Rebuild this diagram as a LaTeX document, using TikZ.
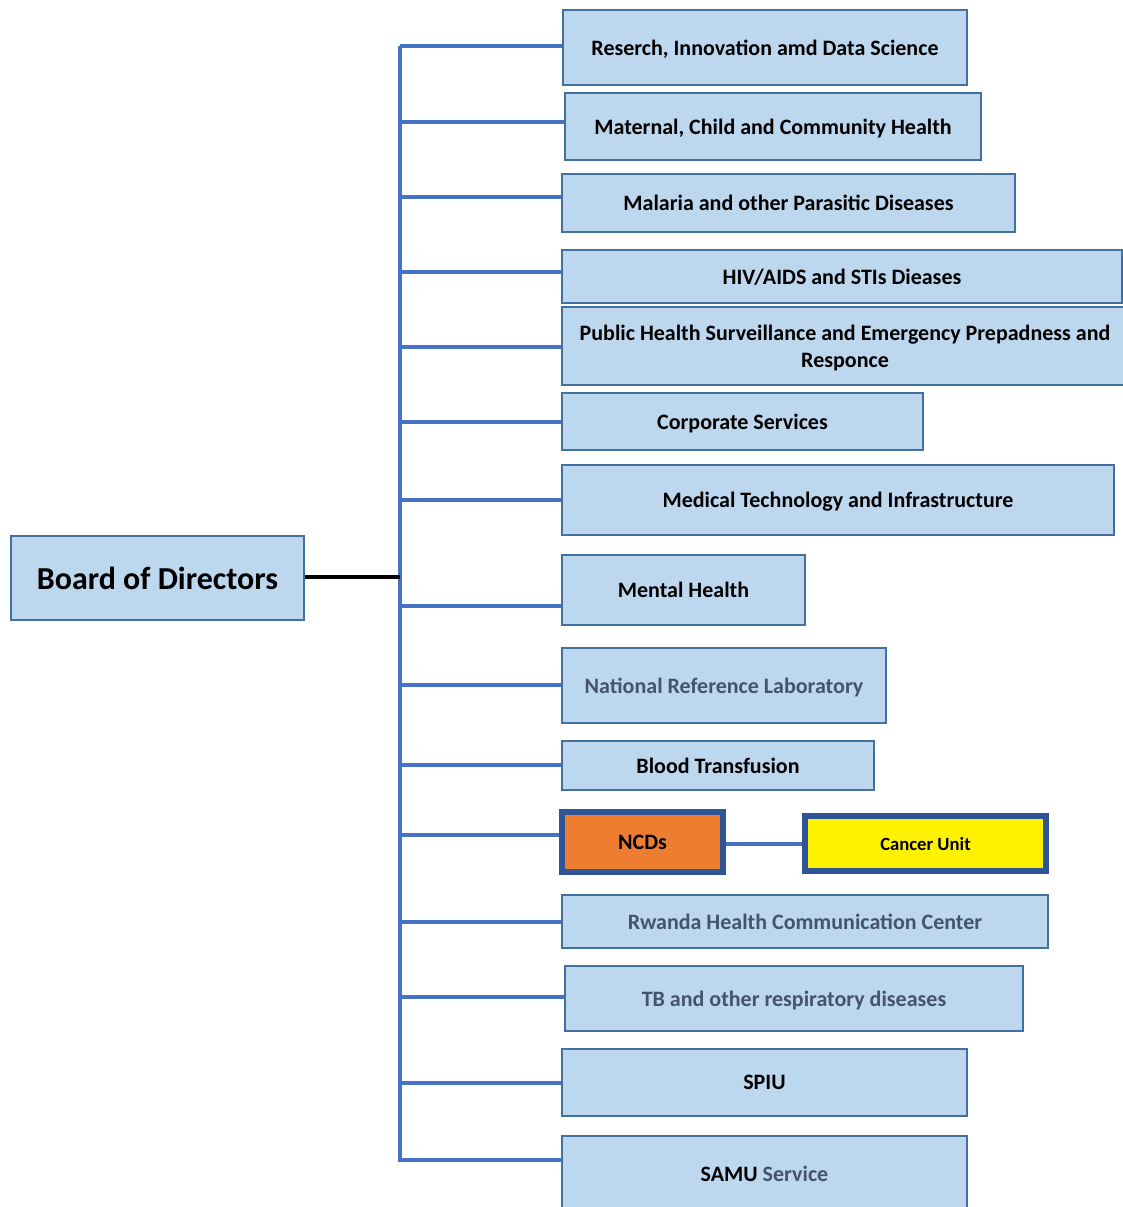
\documentclass[tikz,border=0pt]{standalone}
\usepackage{fontspec}
\setmainfont{Carlito}
\definecolor{boxfill}{HTML}{BDD7EE}
\definecolor{boxline}{HTML}{41719C}
\definecolor{spineblue}{HTML}{4472C4}
\definecolor{ncdfill}{HTML}{ED7D31}
\definecolor{ncdline}{HTML}{2F5597}
\definecolor{mutedtext}{HTML}{44546A}
\begin{document}
\begin{tikzpicture}[x=0.75pt,y=-0.75pt,
  sz/.style 2 args={minimum width=#1*0.75pt, minimum height=#2*0.75pt},
  unit/.style={draw=boxline, fill=boxfill, line width=1.1pt, inner sep=0pt,
    text depth=0pt, font=\bfseries\fontsize{16.5}{20.5}\selectfont, align=center},
  muted/.style={text=mutedtext},
  board/.style={unit, font=\bfseries\fontsize{24}{28}\selectfont},
  highlight/.style={draw=ncdline, line width=5pt, inner sep=0pt, text depth=0pt,
    font=\bfseries\fontsize{16.5}{20}\selectfont},
  branch/.style={draw=spineblue, line width=3pt},
  boardlink/.style={draw=black, line width=3pt}]
\useasboundingbox (0,0) rectangle (1122,1207);

% directorates: centre, then width and height
\node[unit, sz={404}{75}] (b1) at (765,47.5) {Reserch, Innovation amd Data Science};
\node[unit, sz={416}{67}] (b2) at (773,126.5) {Maternal, Child and Community Health};
\node[unit, sz={453}{58}] (b3) at (788.5,203) {Malaria and other Parasitic Diseases};
\node[unit, sz={560}{53}] (b4) at (842,276.5) {HIV/AIDS and STIs Dieases};
\node[unit, sz={566}{78}] (b5) at (845,346) {Public Health Surveillance and Emergency Prepadness and\\Responce};
\node[unit, sz={361}{57}] (b6) at (742.5,421.5) {Corporate Services};
\node[unit, sz={552}{70}] (b7) at (838,500) {Medical Technology and Infrastructure};
\node[unit, sz={243}{70}] (b8) at (683.5,590) {Mental Health};
\node[unit, muted, sz={324}{75}] (b9) at (724,685.5) {National Reference Laboratory};
\node[unit, sz={312}{49}] (b10) at (718,765.5) {Blood Transfusion};
\node[highlight, fill=ncdfill, sz={161}{60}] (b11) at (642.5,842) {NCDs};
\node[highlight, fill=yellow, font=\bfseries\fontsize{14}{17}\selectfont, sz={241}{55}] (cu) at (925.5,843.5) {Cancer Unit};
\node[unit, muted, sz={486}{53}] (b12) at (805,921.5) {Rwanda Health Communication Center};
\node[unit, muted, sz={458}{65}] (b13) at (794,998.5) {TB and other respiratory diseases};
\node[unit, sz={405}{67}] (b14) at (764.5,1082.5) {SPIU};
\node[unit, sz={405}{76}] (b15) at (764.5,1174) {SAMU \textcolor{mutedtext}{Service}};

% board
\node[board, sz={293}{84}] (bod) at (157.5,578) {Board of Directors};

% spine and branches
\coordinate (top) at (400,46);
\coordinate (bottom) at (400,1162);
\coordinate (join) at (400,577);
\draw[branch] (top) -- (bottom);
\draw[boardlink] (bod.east |- join) -- (join);
\foreach \n/\y in {b1/46, b2/122, b3/197, b4/272, b5/347, b6/422, b7/500,
  b8/606, b9/685, b10/765, b11/835, b12/922, b13/997, b14/1083, b15/1160} {
  \coordinate (s\n) at (400,\y);
  \draw[branch] (s\n) -- (s\n -| \n.west);
}
\draw[branch] (b11.east |- cu.west) -- (cu.west);
\end{tikzpicture}
\end{document}
